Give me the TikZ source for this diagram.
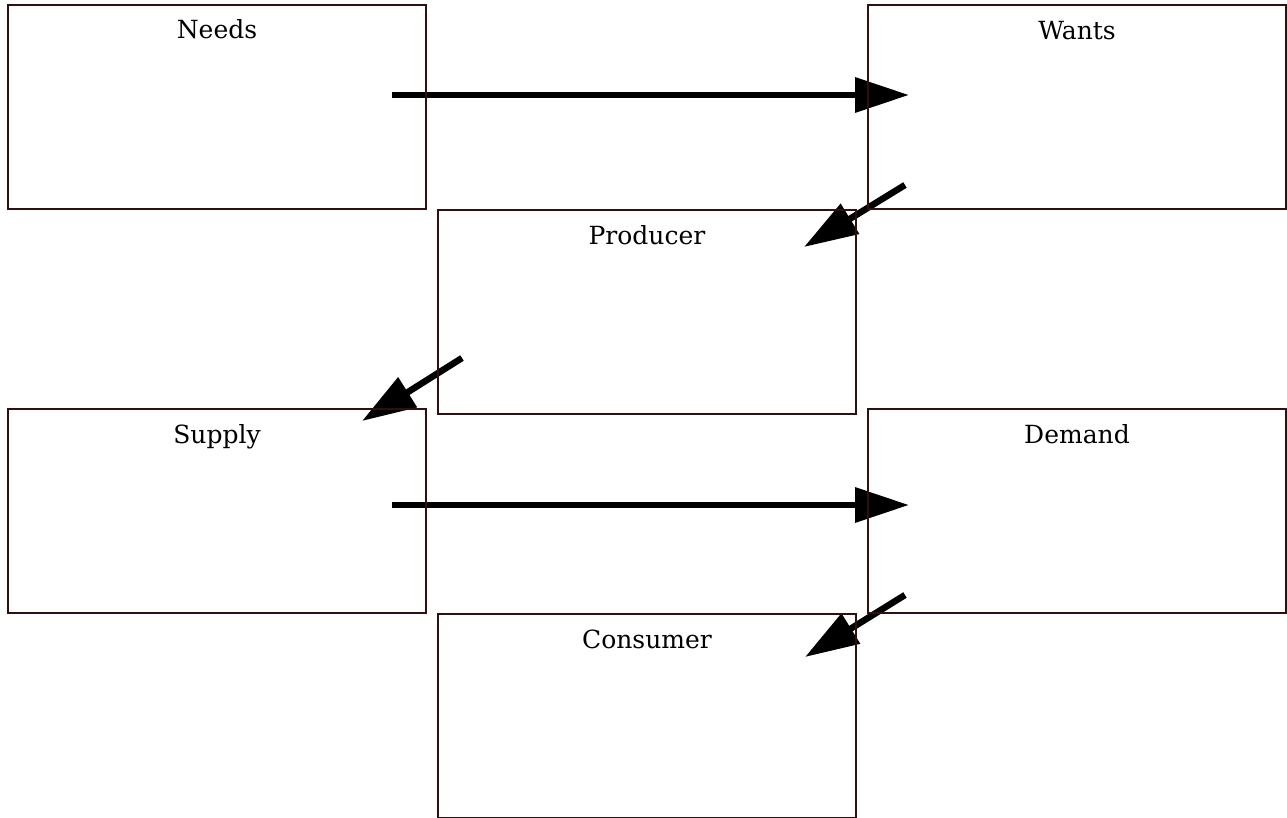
\documentclass[tikz,border=0pt]{standalone}
\usepackage{fontspec}
\setmainfont{DejaVu Serif}
\usetikzlibrary{arrows.meta}
\definecolor{boxline}{HTML}{2E1010}
\begin{document}
\begin{tikzpicture}[x=1pt,y=-1pt,
  box/.style={draw=boxline,line width=2.5pt,rectangle,minimum width=418pt,minimum height=204pt,inner sep=0pt},
  boxlabel/.style={font=\fontsize{25}{28}\selectfont,anchor=base},
  flow/.style={line width=6.5pt,-{Triangle[length=54pt,width=34pt]}}]
\useasboundingbox (0,0) rectangle (1287,818);
% arrow end points
\coordinate (a1s) at (392,95);   \coordinate (a1e) at (909,95);
\coordinate (a2s) at (905,185);  \coordinate (a2e) at (804,247);
\coordinate (a3s) at (462,358);  \coordinate (a3e) at (362,421);
\coordinate (a4s) at (392,505);  \coordinate (a4e) at (909,505);
\coordinate (a5s) at (905,595);  \coordinate (a5e) at (805,657);
\draw[flow] (a1s) -- (a1e);
\draw[flow] (a2s) -- (a2e);
\draw[flow] (a3s) -- (a3e);
\draw[flow] (a4s) -- (a4e);
\draw[flow] (a5s) -- (a5e);
% boxes
\node[box] (needs) at (217,107) {};
\node[box] (wants) at (1077,107) {};
\node[box] (producer) at (647,312) {};
\node[box] (supply) at (217,511) {};
\node[box] (demand) at (1077,511) {};
\node[box] (consumer) at (647,716) {};
% labels
\node[boxlabel] (tneeds) at ([yshift=-35pt]needs.north) {Needs};
\node[boxlabel] (twants) at ([yshift=-36pt]wants.north) {Wants};
\node[boxlabel] (tproducer) at ([yshift=-36pt]producer.north) {Producer};
\node[boxlabel] (tsupply) at ([yshift=-36pt]supply.north) {Supply};
\node[boxlabel] (tdemand) at ([yshift=-36pt]demand.north) {Demand};
\node[boxlabel] (tconsumer) at ([yshift=-36pt]consumer.north) {Consumer};
\end{tikzpicture}
\end{document}
